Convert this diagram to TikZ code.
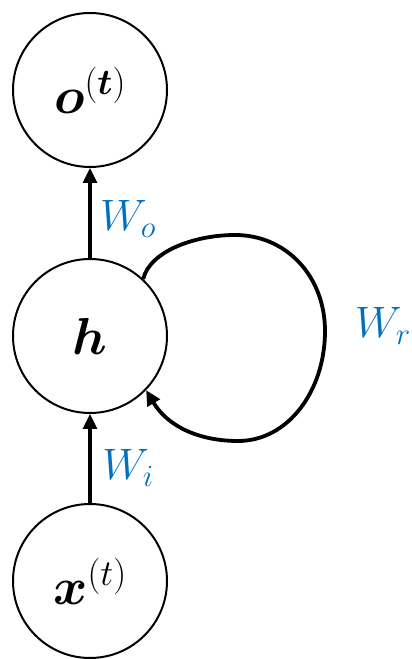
\RequirePackage{fix-cm}
\documentclass[tikz,border=0pt]{standalone}
\usepackage{amsmath}
\usepackage{bm}
\usepackage{xcolor}
\usetikzlibrary{arrows.meta, positioning, calc}
\definecolor{weightblue}{RGB}{0,112,192}

\begin{document}
\begin{tikzpicture}[
    x=1pt, y=1pt,
    unit/.style={
        circle,
        draw=black,
        line width=2pt,
        minimum size=154pt,
        inner sep=0pt,
        font=\fontsize{52}{58}\selectfont
    },
    weight/.style={
        text=weightblue,
        font=\fontsize{44}{50}\selectfont
    },
    arrow/.style={-{Triangle[length=15pt,width=14pt]}, line width=3.2pt}
]
\useasboundingbox (0,0) rectangle (412,659);

\node[unit] (hidden) at (90,323) {$\bm{h}$};
\node[unit] (output) at (90,569) {$\bm{o}^{(\bm{t})}$};
\node[unit] (input) at (90,78) {$\bm{x}^{(t)}$};

\draw[arrow] (input) -- (hidden);
\draw[arrow] (hidden) -- (output);
\draw[arrow, line width=3.8pt] (hidden.47) .. controls (150,408) and (195,424) .. (235,424)
    .. controls (287,424) and (325,382) .. (325,328)
    .. controls (325,268) and (288,218) .. (238,218)
    .. controls (200,218) and (168,232) .. (hidden.-44);

\node[weight] (wo) at (128,440) {$W_o$};
\node[weight] (wi) at (128,191) {$W_i$};
\node[weight] (wr) at (383,333) {$W_r$};
\end{tikzpicture}
\end{document}
